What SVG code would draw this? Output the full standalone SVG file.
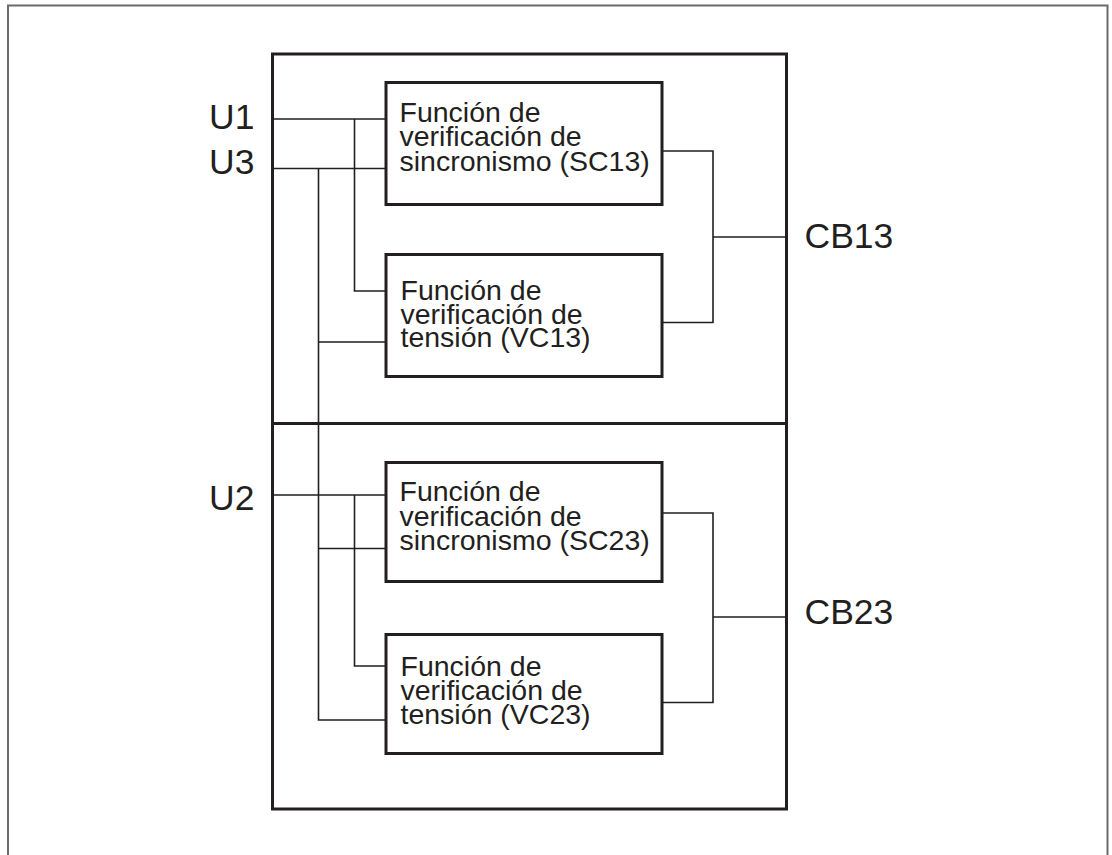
<svg xmlns="http://www.w3.org/2000/svg" width="1112" height="855" viewBox="0 0 1112 855">
<style>
.frame{fill:none;stroke:#6b6b6b;stroke-width:2}
.box{fill:#fff;stroke:#231f20;stroke-width:3}
.wire{fill:none;stroke:#231f20;stroke-width:1.6}
.t{font-family:"Liberation Sans",Arial,sans-serif;fill:#231f20}
.bt{font-size:28.5px}
.lbl{font-size:35.5px}
</style>
<rect width="1112" height="855" fill="#fff"/>
<path class="frame" d="M8,860 V5.5 H1107.5 V860"/>
<g id="container">
<rect class="box" x="272.5" y="54" width="514" height="755" fill="none"/>
<line x1="272.5" y1="423.5" x2="786.5" y2="423.5" stroke="#231f20" stroke-width="3"/>
</g>
<g id="connectors">
<path class="wire" d="M272.5,119 H386 M354.5,119 V291 H386"/>
<path class="wire" d="M272.5,168.5 H386 M318.5,168.5 V720 H386 M318.5,342 H386 M318.5,548.5 H386"/>
<path class="wire" d="M272.5,495 H386 M354.5,495 V666 H386"/>
<path class="wire" d="M662,151 H713 V322.5 H662 M713,237 H786.5"/>
<path class="wire" d="M662,513 H713 V702.5 H662 M713,617 H786.5"/>
</g>
<g id="SC13">
<rect class="box" x="386" y="82.5" width="276" height="122"/>
<text class="t bt" x="399.5" y="121.7">Función de</text>
<text class="t bt" x="399.5" y="146">verificación de</text>
<text class="t bt" x="399.5" y="170.7">sincronismo (SC13)</text>
</g>
<g id="VC13">
<rect class="box" x="386" y="254.5" width="276" height="122"/>
<text class="t bt" x="400.5" y="300">Función de</text>
<text class="t bt" x="400.5" y="323.5">verificación de</text>
<text class="t bt" x="400.5" y="347">tensión (VC13)</text>
</g>
<g id="SC23">
<rect class="box" x="386" y="462.5" width="276" height="119"/>
<text class="t bt" x="399.5" y="501">Función de</text>
<text class="t bt" x="399.5" y="525.5">verificación de</text>
<text class="t bt" x="399.5" y="550">sincronismo (SC23)</text>
</g>
<g id="VC23">
<rect class="box" x="386" y="634.5" width="276" height="119"/>
<text class="t bt" x="400.5" y="676">Función de</text>
<text class="t bt" x="400.5" y="700">verificación de</text>
<text class="t bt" x="400.5" y="724">tensión (VC23)</text>
</g>
<g id="U1"><text class="t lbl" x="209" y="129">U1</text></g>
<g id="U3"><text class="t lbl" x="209" y="173.5">U3</text></g>
<g id="U2"><text class="t lbl" x="209" y="509.5">U2</text></g>
<g id="CB13"><text class="t lbl" x="804.5" y="247.5">CB13</text></g>
<g id="CB23"><text class="t lbl" x="804.5" y="623.5">CB23</text></g>
</svg>
